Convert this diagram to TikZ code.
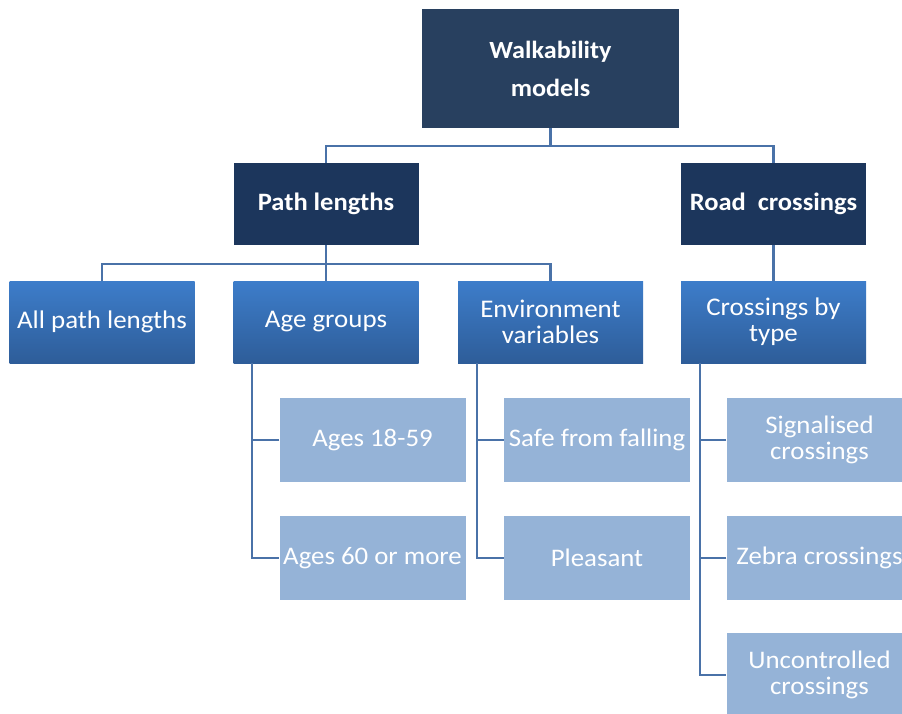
\documentclass[tikz,border=0pt]{standalone}
\usepackage{fontspec}
\setmainfont[FakeStretch=1.06]{Carlito}
\definecolor{cTop}{HTML}{28405F}
\definecolor{cOne}{HTML}{1C365C}
\definecolor{cTwoT}{HTML}{3D7DCA}
\definecolor{cTwoB}{HTML}{2E5D99}
\definecolor{cThree}{HTML}{95B3D7}
\definecolor{cLine}{HTML}{4A72A8}
\begin{document}
\begin{tikzpicture}[x=1pt,y=-1pt,
  base/.style={draw=none, inner sep=0pt, text=white, align=center},
  lvlzero/.style={base, fill=cTop, minimum width=257pt, minimum height=119pt,
    font=\bfseries\fontsize{24.7}{38}\selectfont},
  lvlone/.style={base, fill=cOne, minimum width=185pt, minimum height=82pt,
    font=\bfseries\fontsize{25}{26}\selectfont},
  lvltwo/.style={base, top color=cTwoT, bottom color=cTwoB, minimum width=185pt, minimum height=82pt,
    font=\fontsize{25.4}{26}\selectfont},
  lvlthree/.style={base, fill=cThree, minimum width=186pt, minimum height=84pt,
    font=\fontsize{25.3}{26}\selectfont},
  conn/.style={draw=cLine, line width=2.6pt}]
\clip (0,0) rectangle (902,713);
\useasboundingbox (0,0) rectangle (902,713);
\fill[white] (0,0) rectangle (902,713);

% nodes
\node[lvlzero] (top) at (550.5,68.5) {Walkability\\models};
\node[lvlone] (pl) at (326,204) {Path lengths};
\node[lvlone] (rc) at (773.5,204) {Road\ \ crossings};
\node[lvltwo] (all) at (102,322) {All path lengths};
\node[lvltwo] (age) at (326,322) {Age groups};
\node[lvltwo] (env) at (550.5,322) {Environment\\variables};
\node[lvltwo] (cbt) at (773.5,322) {Crossings by\\type};
\node[lvlthree] (a1) at (372.5,440) {Ages 18-59};
\node[lvlthree] (a2) at (372.5,558) {Ages 60 or more};
\node[lvlthree] (e1) at (597,440) {Safe from falling};
\node[lvlthree] (e2) at (597,558) {Pleasant};
\node[lvlthree] (c1) at (819.5,440) {Signalised\\crossings};
\node[lvlthree] (c2) at (819.5,558) {Zebra crossings};
\node[lvlthree] (c3) at (819.5,675) {Uncontrolled\\crossings};

% connectors
\coordinate (j1) at (550.5,146);
\coordinate (j2) at (326,264);
\draw[conn] (top.south) -- (j1);
\draw[conn] (pl.north) |- (j1) -| (rc.north);
\draw[conn] (pl.south) -- (j2);
\draw[conn] (all.north) |- (j2) -| (env.north);
\draw[conn] (j2) -- (age.north);
\draw[conn] (rc.south) -- (cbt.north);

\draw[conn] (age.south -| 252,0) |- (a2.west);
\draw[conn] (a1.west) -- (a1.west -| 252,0);
\draw[conn] (env.south -| 477,0) |- (e2.west);
\draw[conn] (e1.west) -- (e1.west -| 477,0);
\draw[conn] (cbt.south -| 700,0) |- (c3.west);
\draw[conn] (c1.west) -- (c1.west -| 700,0);
\draw[conn] (c2.west) -- (c2.west -| 700,0);
\end{tikzpicture}
\end{document}
